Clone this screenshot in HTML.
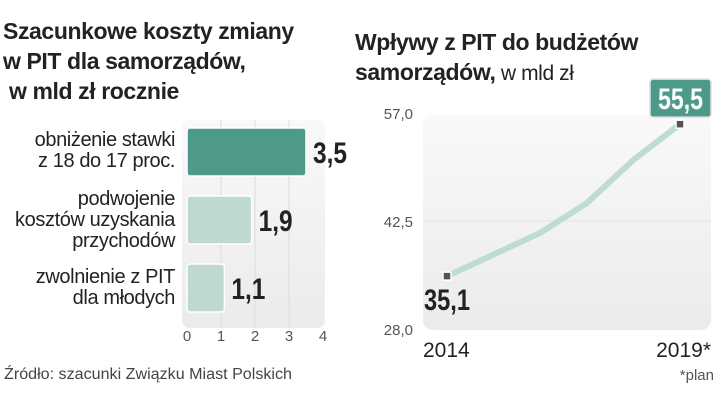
<!DOCTYPE html>
<html><head><meta charset="utf-8">
<style>
body{margin:0;background:#fff;width:720px;height:405px;overflow:hidden;font-family:"Liberation Sans",sans-serif;color:#222}
#wrap{position:relative;width:720px;height:405px}
.t{position:absolute;font-weight:bold;font-size:23px;line-height:30px;letter-spacing:-0.4px;white-space:nowrap;color:#222}
.lab{position:absolute;text-align:right;font-size:20px;line-height:21px;right:545px;white-space:nowrap;letter-spacing:-0.4px;color:#222}
svg{position:absolute;left:0;top:0}
</style></head><body>
<div id="wrap">
<div class="t" style="left:3px;top:16px">Szacunkowe koszty zmiany<br>w PIT dla samorządów,<br>&nbsp;w mld zł rocznie</div>
<div class="t" style="left:355px;top:27px">Wpływy z PIT do budżetów<br>samorządów,<span style="font-weight:normal;font-size:21px"> w mld zł</span></div>
<div class="lab" style="top:130px">obniżenie stawki<br>z 18 do 17 proc.</div>
<div class="lab" style="top:189px">podwojenie<br>kosztów uzyskania<br>przychodów</div>
<div class="lab" style="top:267px">zwolnienie z PIT<br>dla młodych</div>
<svg id="svg" width="720" height="405"></svg>
</div>
<script>
const barCats=["obniżenie","podwojenie","zwolnienie"];
const barVals=[3.5,1.9,1.1];
const barLabels=["3,5","1,9","1,1"];
const xTicks=[0,1,2,3,4];
const years=[2014,2015,2016,2017,2018,2019];
const pit=[35.1,38.0,40.9,44.9,50.7,55.5];
const yTicks=[28.0,42.5,57.0];
const yTickLabels=["28,0","42,5","57,0"];

const NS="http://www.w3.org/2000/svg";
const svg=document.getElementById('svg');
function mk(t,a,p){const e=document.createElementNS(NS,t);for(const k in a)e.setAttribute(k,a[k]);(p||svg).appendChild(e);return e;}
const defs=mk('defs',{});
defs.innerHTML='<linearGradient id="bg1" x1="0" y1="0" x2="0" y2="1"><stop offset="0" stop-color="#f9f9f9"/><stop offset="1" stop-color="#ebebeb"/></linearGradient>';

// bar chart
const bx=v=>187+v*34;
const rowY=[128,196,264], bh=48;
let r=mk('rect',{x:182,y:120,width:143,height:208,rx:8,fill:'url(#bg1)'});

xTicks.forEach(t=>{
 if(t>0&&t<4){let l=mk('line',{x1:bx(t),x2:bx(t),y1:120,y2:328,stroke:'#dcdcdc','stroke-width':1});
 }
 let tx=mk('text',{x:bx(t),y:341,'text-anchor':'middle','font-size':15,fill:'#555','font-family':'Liberation Sans, sans-serif'});
 tx.textContent=t;
 
});
barVals.forEach((v,i)=>{
 let b=mk('rect',{x:bx(0),y:rowY[i],width:bx(v)-bx(0),height:bh,rx:3,fill:i==0?'#4e9a8a':'#bfd9d1',stroke:'#fff','stroke-width':1.5});
 
 let t=mk('text',{x:bx(v)+7,y:rowY[i]+bh/2+11,'font-size':30,'font-weight':'bold',fill:'#222',textLength:34,lengthAdjust:'spacingAndGlyphs','font-family':'Liberation Sans, sans-serif'});
 t.textContent=barLabels[i];
 
});

// line chart
const lx=y=>447+(y-2014)*(680-447)/5;
const ly=v=>329-(v-28)*(329-113)/29;
r=mk('rect',{x:423,y:115,width:288,height:215,rx:10,fill:'url(#bg1)'});

yTicks.forEach((t,i)=>{
 if(i==1){let g=mk('line',{x1:423,x2:711,y1:ly(t),y2:ly(t),stroke:'#e2e2e2'});
 }
 let tx=mk('text',{x:413,y:ly(t)+6,'text-anchor':'end','font-size':15,fill:'#555','font-family':'Liberation Sans, sans-serif'});
 tx.textContent=yTickLabels[i];
 
});
let pl=mk('polyline',{points:years.map((y,i)=>lx(y)+','+ly(pit[i])).join(' '),fill:'none',stroke:'#bfdcd2','stroke-width':6,'stroke-linejoin':'round'});

[0,years.length-1].forEach(i=>{
 let m=mk('rect',{x:lx(years[i])-4,y:ly(pit[i])-4,width:8,height:8,fill:'#555',stroke:'#fff','stroke-width':1.5});
 
});
let lt=mk('text',{x:lx(years[0])-23,y:ly(pit[0])+34,'font-size':30,'font-weight':'bold',fill:'#222',textLength:46,lengthAdjust:'spacingAndGlyphs','font-family':'Liberation Sans, sans-serif'});
lt.textContent=String(pit[0]).replace('.',',');

const last=pit.length-1;
let bxr=mk('rect',{x:lx(years[last])-30,y:ly(pit[last])-45,width:61,height:38,rx:3,fill:'#4e9a8a',stroke:'#e0e0e0','stroke-width':1.5});

let et=mk('text',{x:lx(years[last])-22,y:ly(pit[last])-15,'font-size':30,'font-weight':'bold',fill:'#fff',textLength:45,lengthAdjust:'spacingAndGlyphs','font-family':'Liberation Sans, sans-serif'});
et.textContent=String(pit[last]).replace('.',',');

let y1=mk('text',{x:423,y:357,'font-size':21,fill:'#222','font-family':'Liberation Sans, sans-serif'});y1.textContent=years[0];

let y2=mk('text',{x:711,y:357,'text-anchor':'end','font-size':21,fill:'#222','font-family':'Liberation Sans, sans-serif'});y2.textContent=years[last]+'*';

let pn=mk('text',{x:714,y:380,'text-anchor':'end','font-size':15,fill:'#555','font-family':'Liberation Sans, sans-serif'});pn.textContent='*plan';

let src=mk('text',{x:4,y:379,'font-size':16,fill:'#444',textLength:288,lengthAdjust:'spacingAndGlyphs','font-family':'Liberation Sans, sans-serif'});src.textContent='Źródło: szacunki Związku Miast Polskich';

</script>
</body></html>
